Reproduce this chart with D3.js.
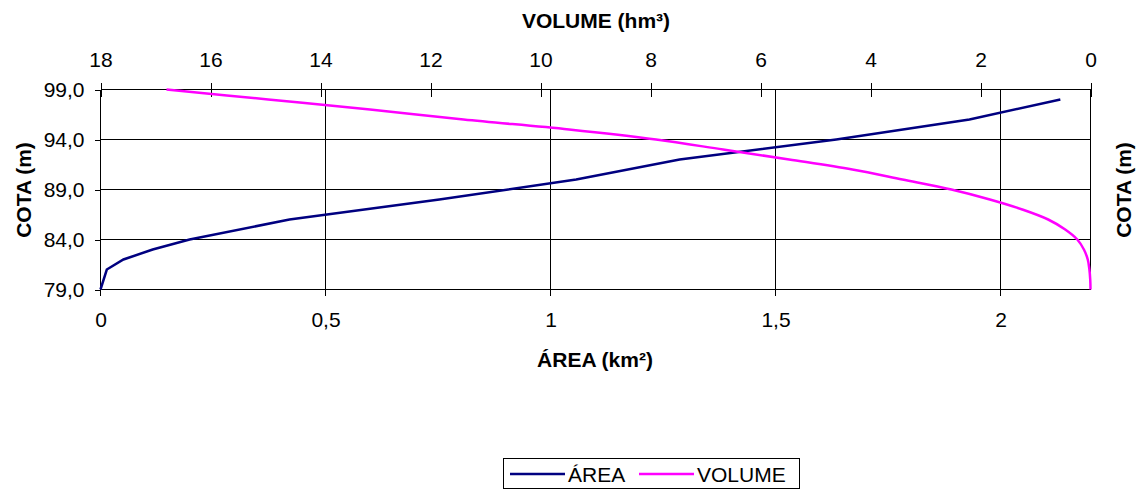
<!DOCTYPE html>
<html>
<head>
<meta charset="utf-8">
<script src="https://cdn.jsdelivr.net/npm/d3@7"></script>
<style>
  body { margin: 0; background: #fff; }
  svg { display: block; font-family: "Liberation Sans", Arial, sans-serif; }
  .axis path { display: none; }
  .axis text { font-size: 21px; fill: #000; }
  .title { font-size: 21px; font-weight: bold; }
</style>
</head>
<body>
<div id="chart"></div>
<script>
// cota (m) vs area (km2)
const cotaArea = [79, 81, 82, 83, 84, 86, 88, 90, 92, 94, 96, 98];
const areaValues = [0, 0.014, 0.051, 0.116, 0.198, 0.42, 0.753, 1.057, 1.287, 1.635, 1.931, 2.133];
// cota (m) vs volume (hm3)
const cotaVolume = [79, 80, 81, 82, 83, 84, 85, 86, 87, 88, 89, 90, 91, 92, 93, 94, 95, 96, 97, 98, 99];
const volumeValues = [0, 0.005, 0.02, 0.05, 0.12, 0.24, 0.46, 0.77, 1.24, 1.83, 2.53, 3.42, 4.33, 5.48, 6.68, 7.9, 9.48, 11.4, 13.1, 14.95, 16.8];

const cotaTicks = [79, 84, 89, 94, 99];
const areaTicks = [0, 0.5, 1, 1.5, 2];
const volumeTicks = [18, 16, 14, 12, 10, 8, 6, 4, 2, 0];
const seriesNames = ['ÁREA', 'VOLUME'];
const seriesColors = ['#000080', '#ff00ff'];

const width = 1136;
const height = 489;
const plotLeft = 100.5, plotRight = 1090.5, plotTop = 89.5, plotBottom = 289.5;

const svg = d3.select('#chart')
  .append('svg')
  .attr('width', width)
  .attr('height', height);

const y = d3.scaleLinear().domain([79, 99]).range([plotBottom, plotTop]);
const xArea = d3.scaleLinear().domain([0, 2.2]).range([plotLeft, plotRight]);
const xVol = d3.scaleLinear().domain([18, 0]).range([plotLeft, plotRight]);

const comma = f => d => f(d).replace('.', ',');

// grid
const grid = svg.append('g').attr('stroke', '#000').attr('stroke-width', 1).attr('shape-rendering', 'crispEdges');
grid.selectAll('.hg')
  .data(cotaTicks)
  .enter()
  .append('line')
  .attr('x1', plotLeft).attr('x2', plotRight)
  .attr('y1', d => y(d)).attr('y2', d => y(d));
grid.selectAll('.vg')
  .data(areaTicks.filter(d => d > 0))
  .enter()
  .append('line')
  .attr('x1', d => xArea(d)).attr('x2', d => xArea(d))
  .attr('y1', plotTop).attr('y2', plotBottom + 6);
grid.append('line').attr('x1', plotLeft).attr('x2', plotLeft).attr('y1', plotTop).attr('y2', plotBottom + 6);
grid.append('line').attr('x1', plotRight).attr('x2', plotRight).attr('y1', plotTop).attr('y2', plotBottom);

// left axis
svg.append('g')
  .attr('class', 'axis')
  .attr('transform', 'translate(' + plotLeft + ',0)')
  .call(d3.axisLeft(y).tickValues(cotaTicks).tickFormat(comma(d3.format('.1f'))).tickSize(6).tickPadding(10))
  .selectAll('line').attr('stroke', '#000').attr('shape-rendering', 'crispEdges');

// bottom axis
svg.append('g')
  .attr('class', 'axis')
  .attr('transform', 'translate(0,' + plotBottom + ')')
  .call(d3.axisBottom(xArea).tickValues(areaTicks).tickFormat(comma(d => String(d))).tickSize(0).tickPadding(23));

// top axis (volume, reversed)
const topAxis = svg.append('g')
  .attr('class', 'axis')
  .attr('transform', 'translate(0,' + plotTop + ')')
  .call(d3.axisTop(xVol).tickValues(volumeTicks).tickSize(0).tickPadding(23));
topAxis.selectAll('.tick')
  .append('line')
  .attr('y1', -7).attr('y2', 7)
  .attr('stroke', '#000')
  .attr('shape-rendering', 'crispEdges');

// curves
const areaLine = d3.line()
  .x((d, i) => xArea(areaValues[i]))
  .y(d => y(d));
svg.append('path')
  .datum(cotaArea)
  .attr('d', areaLine)
  .attr('fill', 'none')
  .attr('stroke', seriesColors[0])
  .attr('stroke-width', 2.5);

const volLine = d3.line()
  .x((d, i) => xVol(volumeValues[i]))
  .y(d => y(d))
  .curve(d3.curveCatmullRom);
svg.append('path')
  .datum(cotaVolume)
  .attr('d', volLine)
  .attr('fill', 'none')
  .attr('stroke', seriesColors[1])
  .attr('stroke-width', 2.5);

// titles
svg.append('text').attr('class', 'title')
  .attr('x', 596).attr('y', 28).attr('text-anchor', 'middle')
  .text('VOLUME (hm³)');
svg.append('text').attr('class', 'title')
  .attr('x', 595).attr('y', 367).attr('text-anchor', 'middle')
  .text('ÁREA (km²)');
svg.append('text').attr('class', 'title')
  .attr('transform', 'translate(31,190) rotate(-90)')
  .attr('text-anchor', 'middle')
  .text('COTA (m)');
svg.append('text').attr('class', 'title')
  .attr('transform', 'translate(1131,190) rotate(-90)')
  .attr('text-anchor', 'middle')
  .text('COTA (m)');

// legend
const legend = svg.append('g');
legend.append('rect')
  .attr('x', 503.5).attr('y', 458.5)
  .attr('width', 296).attr('height', 30)
  .attr('fill', '#fff').attr('stroke', '#000');
const legendX = [510, 639];
const items = legend.selectAll('.item')
  .data(seriesNames)
  .enter()
  .append('g')
  .attr('transform', (d, i) => 'translate(' + legendX[i] + ',474)');
items.append('line')
  .attr('x1', 0).attr('x2', 55)
  .attr('stroke', (d, i) => seriesColors[i])
  .attr('stroke-width', 2.5);
items.append('text')
  .attr('x', 58).attr('dy', '0.36em')
  .style('font-size', '21px')
  .text(d => d);
</script>
</body>
</html>
